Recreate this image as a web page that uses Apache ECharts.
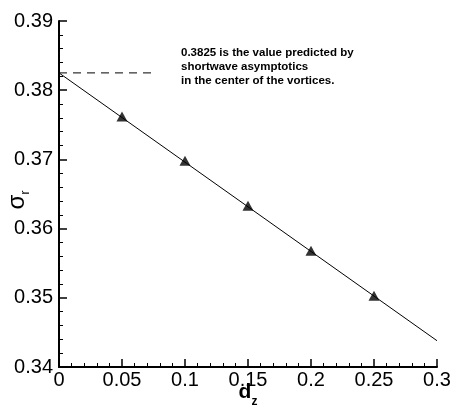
<!DOCTYPE html>
<html>
<head>
<meta charset="utf-8">
<script src="https://cdn.jsdelivr.net/npm/echarts@6/dist/echarts.min.js"></script>
<style>
  html, body { margin: 0; padding: 0; background: #fff; }
  #chart { width: 453px; height: 413px; }
</style>
</head>
<body>
<div id="chart"></div>
<script>
// Growth rate sigma_r versus d_z
const dz = [0.05, 0.10, 0.15, 0.20, 0.25];
const sigmaR = [0.3762, 0.3698, 0.3633, 0.3568, 0.3503];

// Straight fit through the points, extended to both axis ends
const fitX = [0, 0.3];
const fitY = [0.3825, 0.3438];

// Shortwave asymptotic value and the short dashed guide at it
const asymptoticValue = 0.3825;
const guideX = [0, 0.074];

const noteLines = [
  '0.3825 is the value predicted by',
  'shortwave asymptotics',
  'in the center of the vortices.'
];

const FONT = '"Liberation Sans", Arial, Helvetica, sans-serif';

const chart = echarts.init(document.getElementById('chart'), null, { renderer: 'canvas' });

chart.setOption({
  animation: false,
  backgroundColor: '#ffffff',
  grid: { left: 59, right: 16, top: 21, bottom: 46, containLabel: false, outerBoundsMode: 'none' },
  xAxis: {
    type: 'value',
    min: 0, max: 0.3, interval: 0.05,
    name: '{m|d}{s|z}',
    nameLocation: 'middle',
    nameGap: 14,
    nameMoveOverlap: false,
    nameTextStyle: {
      rich: {
        m: { fontFamily: FONT, fontWeight: 'bold', fontSize: 21, color: '#000', lineHeight: 22, verticalAlign: 'bottom' },
        s: { fontFamily: FONT, fontWeight: 'bold', fontSize: 12, color: '#000', lineHeight: 12, verticalAlign: 'bottom', padding: [0, 0, -5, 0] }
      }
    },
    axisLine: { show: true, lineStyle: { color: '#000', width: 2 } },
    axisTick: { show: true, inside: true, length: 8, lineStyle: { color: '#000', width: 1.5 } },
    minorTick: { show: true, splitNumber: 5, length: 4, lineStyle: { color: '#000', width: 1 } },
    splitLine: { show: false },
    axisLabel: { color: '#000', fontFamily: FONT, fontSize: 20, margin: 3 }
  },
  yAxis: {
    type: 'value',
    min: 0.34, max: 0.39, interval: 0.01,
    name: '{m|σ}{s|r}',
    nameLocation: 'middle',
    nameRotate: 90,
    nameGap: 30,
    nameMoveOverlap: false,
    nameTextStyle: {
      padding: [0, 12, 0, 0],
      rich: {
        m: { fontFamily: FONT, fontSize: 24, color: '#000', lineHeight: 24, verticalAlign: 'bottom' },
        s: { fontFamily: FONT, fontSize: 12, color: '#000', lineHeight: 12, verticalAlign: 'bottom', padding: [0, 0, -3, 0] }
      }
    },
    axisLine: { show: true, lineStyle: { color: '#000', width: 2 } },
    axisTick: { show: true, inside: true, length: 8, lineStyle: { color: '#000', width: 1.5 } },
    minorTick: { show: true, splitNumber: 5, length: 4, lineStyle: { color: '#000', width: 1 } },
    splitLine: { show: false },
    axisLabel: { color: '#000', fontFamily: FONT, fontSize: 20, margin: 6 }
  },
  series: [
    {
      name: 'guide',
      type: 'line',
      data: guideX.map(x => [x, asymptoticValue]),
      symbol: 'none',
      lineStyle: { color: '#000', width: 1, type: [8, 6] },
      z: 1
    },
    {
      name: 'fit',
      type: 'line',
      data: fitX.map((x, i) => [x, fitY[i]]),
      symbol: 'none',
      lineStyle: { color: '#000', width: 1 },
      z: 2
    },
    {
      name: 'sigma_r',
      type: 'scatter',
      data: dz.map((x, i) => [x, sigmaR[i]]),
      symbol: 'triangle',
      symbolSize: [11, 10],
      itemStyle: { color: '#000' },
      z: 3
    }
  ],
  graphic: [
    {
      type: 'text',
      left: 181,
      top: 46,
      style: {
        text: noteLines.join('\n'),
        fontFamily: FONT,
        fontWeight: 'bold',
        fontSize: 11.5,
        lineHeight: 14,
        fill: '#000'
      }
    }
  ]
});
</script>
</body>
</html>
